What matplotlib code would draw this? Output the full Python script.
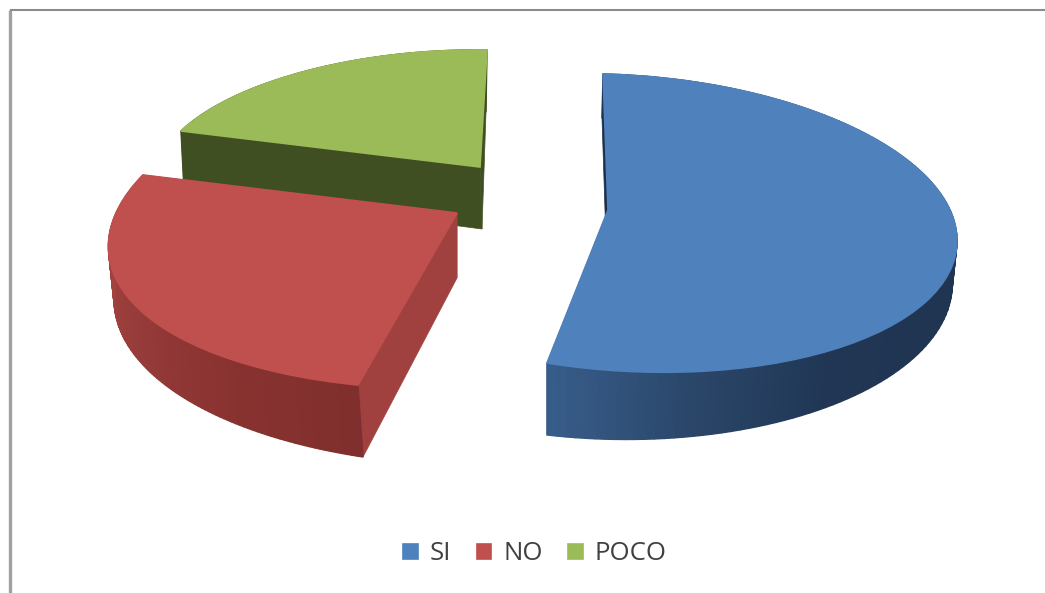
import numpy as np
import matplotlib
matplotlib.use("Agg")
import matplotlib.pyplot as plt
from matplotlib.transforms import Transform
from matplotlib.colors import to_rgb

labels = ["SI", "NO", "POCO"]
values = [53, 28, 19]
top_colors = ["#4F81BD", "#C0504D", "#9BBB59"]

# where apex / first edge / arc middle / last edge of each slice land, in pixels
top_anchors = [
    [(608, 210), (603, 74), (957, 240), (547, 363)],
    [(457, 213), (358, 385), (133, 303), (143, 175)],
    [(480, 167), (181, 131), (310, 70), (487, 50)],
]
bottom_anchors = [
    [(607, 272), (602, 118), (952, 290), (547, 435)],
    [(457, 278), (363, 457), (137, 358), (150, 225)],
    [(482, 229), (184, 190), (312, 125), (486, 112)],
]
# rim shading, from first edge to last edge of the slice
rim_colors = [
    ["#1F3552", "#1F3552", "#1F3552", "#1F3552", "#1F3552", "#1F3552", "#203654", "#2A4669", "#385D8A"],
    ["#7F2F2D", "#8A3331", "#973C3A", "#A3423F", "#A5433F"],
    ["#404F22", "#404F22"],
]
cut_colors = ["#1B2F49", "#A04140", "#404F22"]


def homography(src, dst):
    rows = []
    for (x, y), (X, Y) in zip(src, dst):
        rows.append([x, y, 1, 0, 0, 0, -X * x, -X * y])
        rows.append([0, 0, 0, x, y, 1, -Y * x, -Y * y])
    sol = np.linalg.solve(np.array(rows, float), np.array(dst, float).ravel())
    return np.append(sol, 1).reshape(3, 3)


def project(H, pts):
    pts = np.asarray(pts, float)
    p = np.column_stack([pts, np.ones(len(pts))]) @ H.T
    return p[:, :2] / p[:, 2:]


class Projection(Transform):
    input_dims = 2
    output_dims = 2
    is_separable = False

    def __init__(self, H):
        super().__init__()
        self.H = H

    def transform_non_affine(self, values):
        return project(self.H, values)


def unit(deg):
    r = np.radians(deg)
    return np.column_stack([np.cos(r), np.sin(r)])


fig, ax = plt.subplots(figsize=(10.45, 5.93), dpi=100)
fig.subplots_adjust(0, 0, 1, 1)

wedges, _ = ax.pie(values, colors=top_colors, startangle=90, counterclock=False, frame=False)
ax.set_aspect("auto")
ax.set_xlim(0, 1045)
ax.set_ylim(593, 0)
ax.axis("off")

for i in range(3):
    w = wedges[i]
    z = (2 - i) * 3
    t0, t1 = w.theta2, w.theta1
    src = [(0, 0), *unit([t0, (t0 + t1) / 2, t1])]
    Ht = homography(src, top_anchors[i])
    Hb = homography(src, bottom_anchors[i])

    # flat cut faces first, the rim goes over them
    for t in [t0, t1]:
        tt = project(Ht, [(0, 0), *unit([t])])
        bb = project(Hb, [(0, 0), *unit([t])])
        poly = np.vstack([tt, bb[::-1]])
        ax.fill(poly[:, 0], poly[:, 1], color=cut_colors[i], lw=0.5, zorder=z + 2)

    # rim as thin strips, that gives the soft shading
    grid = np.linspace(t0, t1, 120)
    stops = np.array([to_rgb(c) for c in rim_colors[i]])
    pos = np.linspace(0, 1, len(stops))
    for k in range(len(grid) - 1):
        seg = unit(grid[k:k + 2])
        f = (k + 0.5) / (len(grid) - 1)
        col = [np.interp(f, pos, stops[:, n]) for n in range(3)]
        poly = np.vstack([project(Ht, seg), project(Hb, seg)[::-1]])
        ax.fill(poly[:, 0], poly[:, 1], color=col, lw=1, zorder=z + 3)

    w.set_transform(Projection(Ht) + ax.transData)
    w.set_clip_on(False)
    w.set_edgecolor(top_colors[i])
    w.set_linewidth(1.2)
    w.set_zorder(z + 4)

# chart frame, only left and top are visible in the scan
ax.plot([10, 10], [593, 10], color="#A0A0A0", lw=2.4, zorder=1, solid_capstyle="butt")
ax.plot([10, 1045], [10, 10], color="#8C8C8C", lw=1.5, zorder=1, solid_capstyle="butt")

ax.legend(wedges, labels, ncol=3, loc="center", bbox_to_anchor=(535 / 1045, 1 - 554 / 593),
          frameon=False, labelcolor="#404040", handlelength=0.57, handleheight=0.57,
          handletextpad=0.46, columnspacing=1.0,
          prop={"family": "Open Sans", "size": 18.5})

fig.savefig("out.png", dpi=100)
